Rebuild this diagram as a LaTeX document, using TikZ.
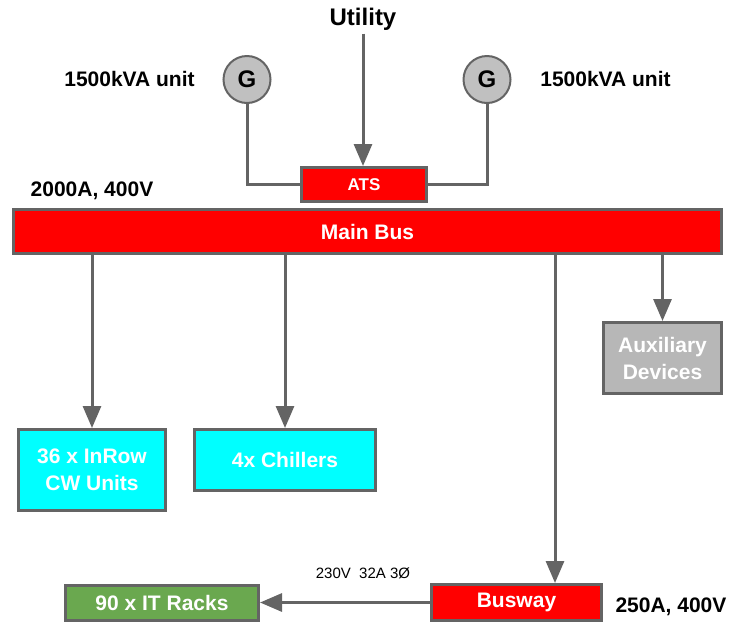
\documentclass[tikz,border=0pt]{standalone}
\usepackage{fontspec}
\setmainfont{Liberation Sans}
\usetikzlibrary{
	arrows.meta,
	positioning
}
\definecolor{BusRed}{RGB}{255,0,0}
\definecolor{UnitCyan}{RGB}{0,255,255}
\definecolor{RackGreen}{RGB}{106,168,79}
\definecolor{AuxGray}{RGB}{183,183,183}
\definecolor{GenGray}{RGB}{192,192,192}
\definecolor{LineGray}{RGB}{100,100,100}

\begin{document}
\begin{tikzpicture}[x=1pt, y=-1pt,
		box/.style={draw=LineGray, line width=3pt, text=white, align=center, inner sep=0pt,
			font=\fontsize{21}{27}\selectfont\bfseries},
		lbl/.style={anchor=base, font=\fontsize{21}{25}\selectfont\bfseries},
		gen/.style={circle, draw=LineGray, line width=2pt, fill=GenGray, minimum size=47pt,
			inner sep=0pt, font=\fontsize{24}{28}\selectfont\bfseries},
		feed/.style={draw=LineGray, line width=3pt, -{Triangle[width=18pt,length=22pt]}},
		wire/.style={draw=LineGray, line width=3pt}]
		\useasboundingbox (0,0) rectangle (733,625);
		% supply side
		\node[lbl, font=\fontsize{24}{28}\selectfont\bfseries] (utility) at (363,25) {Utility};
		\node[gen] (genl) at (247,79.5) {G};
		\node[gen] (genr) at (487,79.5) {G};
		\node[lbl] (kval) at (129.5,86) {1500kVA unit};
		\node[lbl] (kvar) at (605.5,86) {1500kVA unit};
		\node[box, fill=BusRed, minimum width=125pt, minimum height=34pt,
			font=\fontsize{17}{20}\selectfont\bfseries] (ats) at (364,184.5) {ATS};
		\node[box, fill=BusRed, minimum width=708pt, minimum height=44pt] (bus) at (367.5,231.5) {Main Bus};
		\node[lbl] (busrating) at (92,196) {2000A, 400V};
		% loads
		\node[box, fill=UnitCyan, minimum width=147pt, minimum height=81pt] (inrow) at (92,470) {36 x InRow\\CW Units};
		\node[box, fill=UnitCyan, minimum width=181pt, minimum height=61pt] (chillers) at (285,460) {4x Chillers};
		\node[box, fill=AuxGray, minimum width=118pt, minimum height=71pt] (aux) at (662.5,358) {Auxiliary\\Devices};
		\node[box, fill=BusRed, minimum width=170pt, minimum height=36pt] (busway) at (516.5,602.5) {Busway};
		\node[box, fill=RackGreen, minimum width=193pt, minimum height=35pt] (racks) at (162,602.5) {90 x IT Racks};
		\node[lbl] (bwrating) at (671,612) {250A, 400V};
		\node[anchor=base, font=\fontsize{15}{18}\selectfont] (phase) at (363,578) {230V\ \ 32A 3Ø};
		\coordinate (bwx) at (555,0);

		\draw[feed] (utility.south) -- (utility.south |- ats.north);
		\draw[wire] (genl.south) |- (ats.west);
		\draw[wire] (genr.south) |- (ats.east);
		\draw[feed] (bus.south -| inrow.north) -- (inrow.north);
		\draw[feed] (bus.south -| chillers.north) -- (chillers.north);
		\draw[feed] (bus.south -| aux.north) -- (aux.north);
		\draw[feed] (bus.south -| bwx) -- (busway.north -| bwx);
		\draw[feed] (busway.west) -- (racks.east);
	\end{tikzpicture}
\end{document}
